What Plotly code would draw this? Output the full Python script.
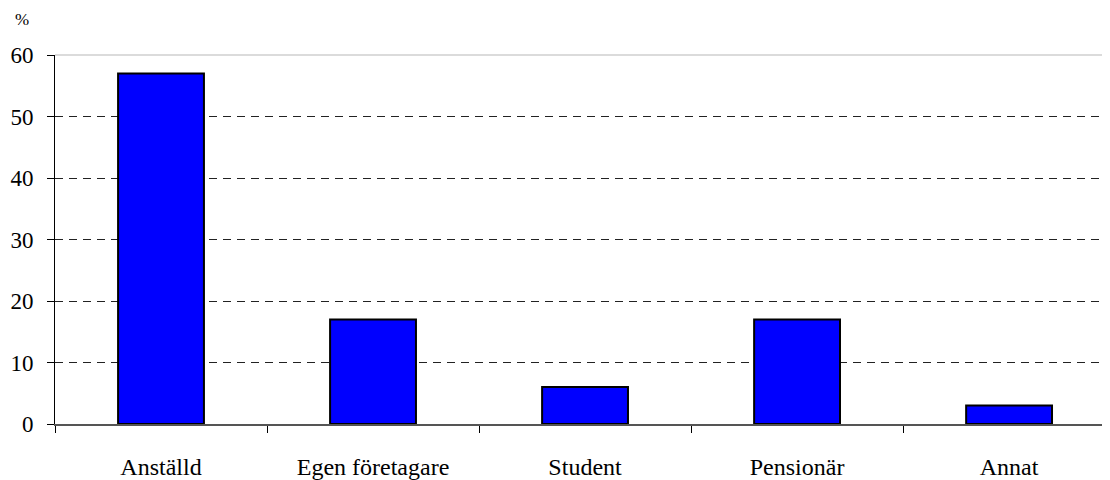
import plotly.graph_objects as go

categories = ["Anställd", "Egen företagare", "Student", "Pensionär", "Annat"]
values = [57, 17, 6, 17, 3]
y_ticks = [0, 10, 20, 30, 40, 50, 60]

FONT = "Liberation Serif, Times New Roman, serif"

fig = go.Figure()
fig.add_trace( go.Bar( x=categories, y=values,
                       width=0.405,
                       marker={ "color" : "#0000FF",
                                "line" : { "color" : "#000000", "width" : 2 } } ) )

# page body has an 8px margin, so the figure is sized to fit inside it
fig.update_xaxes( type="category", range=[-0.5, 4.476],
                  showline=True, linecolor="#555555", linewidth=2,
                  ticks="outside", tickson="boundaries", ticklen=7, tickcolor="#000000", tickwidth=1,
                  showgrid=False, ticklabelstandoff=20,
                  tickfont={ "family" : FONT, "size" : 24, "color" : "#000000" } )
fig.update_yaxes( range=[0, 60], tickmode="array", tickvals=y_ticks,
                  showline=True, linecolor="#000000", linewidth=1,
                  ticks="outside", ticklen=7, tickcolor="#000000", tickwidth=1,
                  showgrid=True, gridcolor="#222222", gridwidth=1, griddash="8px,6px",
                  zeroline=False, ticklabelstandoff=9,
                  tickfont={ "family" : FONT, "size" : 23, "color" : "#000000" } )

# grey frame line along the top of the plot area
fig.add_shape( type="line", xref="paper", yref="paper", x0=0, x1=1, y0=1, y1=1,
               line={ "color" : "#8c8c8c", "width" : 2 } )

fig.add_annotation( text="%", xref="paper", yref="paper", x=-0.04, y=1.095,
                    xanchor="left", yanchor="middle", showarrow=False,
                    font={ "family" : FONT, "size" : 17, "color" : "#000000" } )

fig.update_layout( width=1102, height=472,
                   template="simple_white",
                   plot_bgcolor="#ffffff",
                   paper_bgcolor="#ffffff",
                   showlegend=False,
                   margin={ "l" : 47, "r" : 0, "t" : 47, "b" : 56 } )

fig.write_html( "out.html" )
